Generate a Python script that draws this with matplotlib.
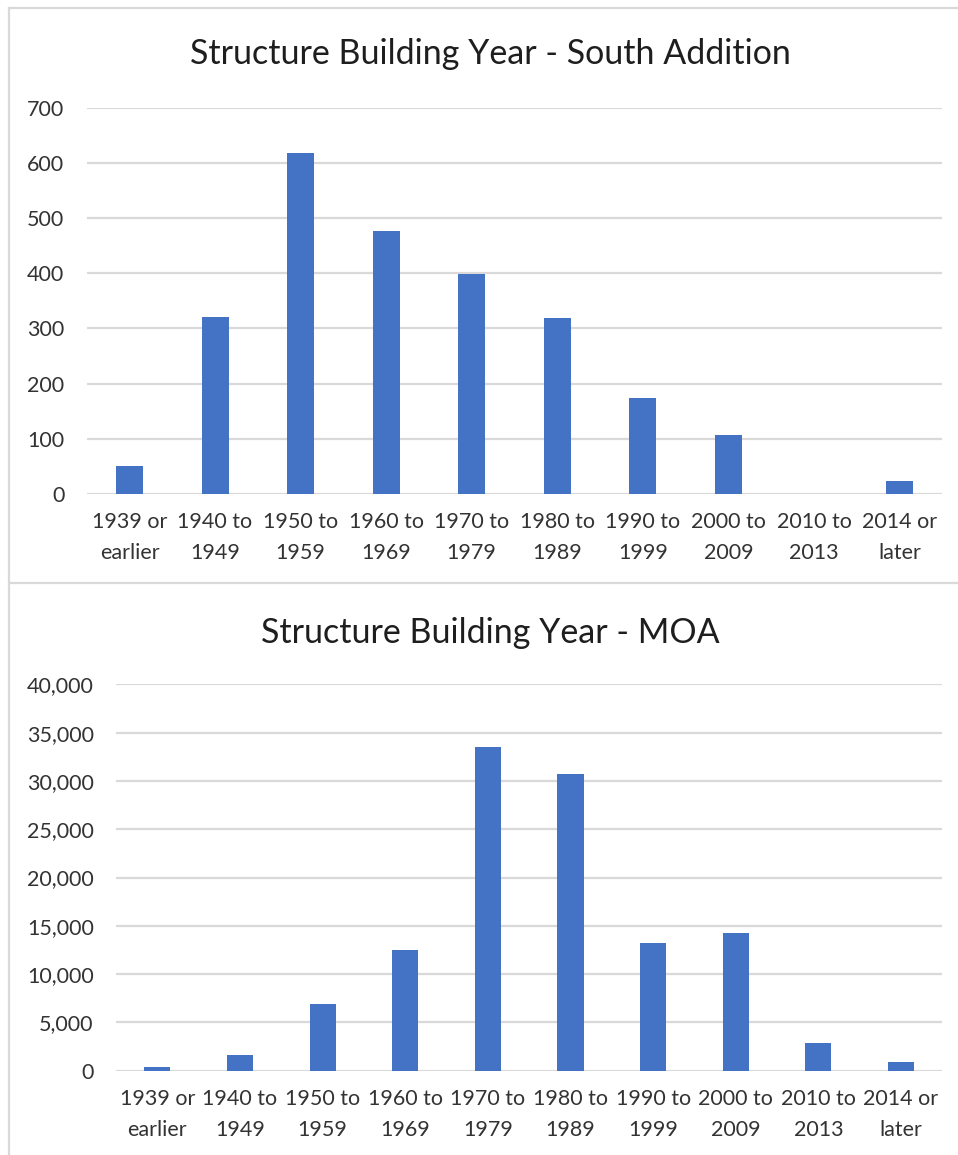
import matplotlib
matplotlib.use("Agg")
import matplotlib.pyplot as plt
from matplotlib.lines import Line2D
from matplotlib.ticker import FuncFormatter

# ---------------- data ----------------
categories = ["1939 or\nearlier", "1940 to\n1949", "1950 to\n1959", "1960 to\n1969",
              "1970 to\n1979", "1980 to\n1989", "1990 to\n1999", "2000 to\n2009",
              "2010 to\n2013", "2014 or\nlater"]
south_addition = [51, 321, 618, 477, 398, 318, 173, 107, 0, 24]
moa = [350, 1600, 6900, 12450, 33500, 30700, 13250, 14300, 2900, 950]

title_top = "Structure Building Year - South Addition"
title_bottom = "Structure Building Year - MOA"

# ---------------- style ----------------
W, H = 958, 1155
BAR = "#4472C4"
GRID = "#d9d9d9"
TXT = "#333333"
FONT = "Lato"

fig = plt.figure(figsize=(W / 100, H / 100), dpi=100)
fig.patch.set_facecolor("white")


def rect(x0, y0, x1, y1):
    return [x0 / W, 1 - y1 / H, (x1 - x0) / W, (y1 - y0) / H]


def make_chart(r, values, ymax, ystep, fmt, title, title_base):
    ax = fig.add_axes(r)
    x = list(range(len(categories)))
    ax.bar(x, values, width=0.316, color=BAR, zorder=3)
    ax.set_xlim(-0.5, len(categories) - 0.5)
    ax.set_ylim(0, ymax)
    ax.set_yticks(list(range(0, ymax + 1, ystep)))
    ax.yaxis.set_major_formatter(FuncFormatter(fmt))
    ax.set_xticks(x)
    ax.set_xticklabels(categories, fontsize=15.5, color=TXT, family=FONT, linespacing=1.7)
    for lab in ax.get_yticklabels():
        lab.set_fontsize(15.5)
        lab.set_color(TXT)
        lab.set_family(FONT)
    ax.tick_params(axis="both", length=0)
    ax.tick_params(axis="x", pad=13)
    ax.tick_params(axis="y", pad=16)
    ax.grid(axis="y", color=GRID, linewidth=1.6, zorder=0)
    for s in ax.spines.values():
        s.set_visible(False)
    ax.set_facecolor("none")
    fig.text(490 / W, 1 - title_base / H, title, ha="center", va="baseline",
             fontsize=24.5, color="#1e1e1e", family=FONT)
    return ax


make_chart(rect(86.7, 107.5, 942.3, 494.0), south_addition, 700, 100,
           lambda v, p: f"{int(v)}", title_top, 64)
make_chart(rect(116.0, 684.3, 942.3, 1070.7), moa, 40000, 5000,
           lambda v, p: f"{int(v):,}", title_bottom, 643)

# chart frame borders
for (xs, ys) in [((9, 9), (8, 1155)), ((9, W), (8, 8)), ((9, W), (583, 583))]:
    fig.add_artist(Line2D([xx / W for xx in xs], [1 - yy / H for yy in ys],
                          color=GRID, linewidth=1.6, transform=fig.transFigure))

fig.savefig("out.png", dpi=100, facecolor="white")
